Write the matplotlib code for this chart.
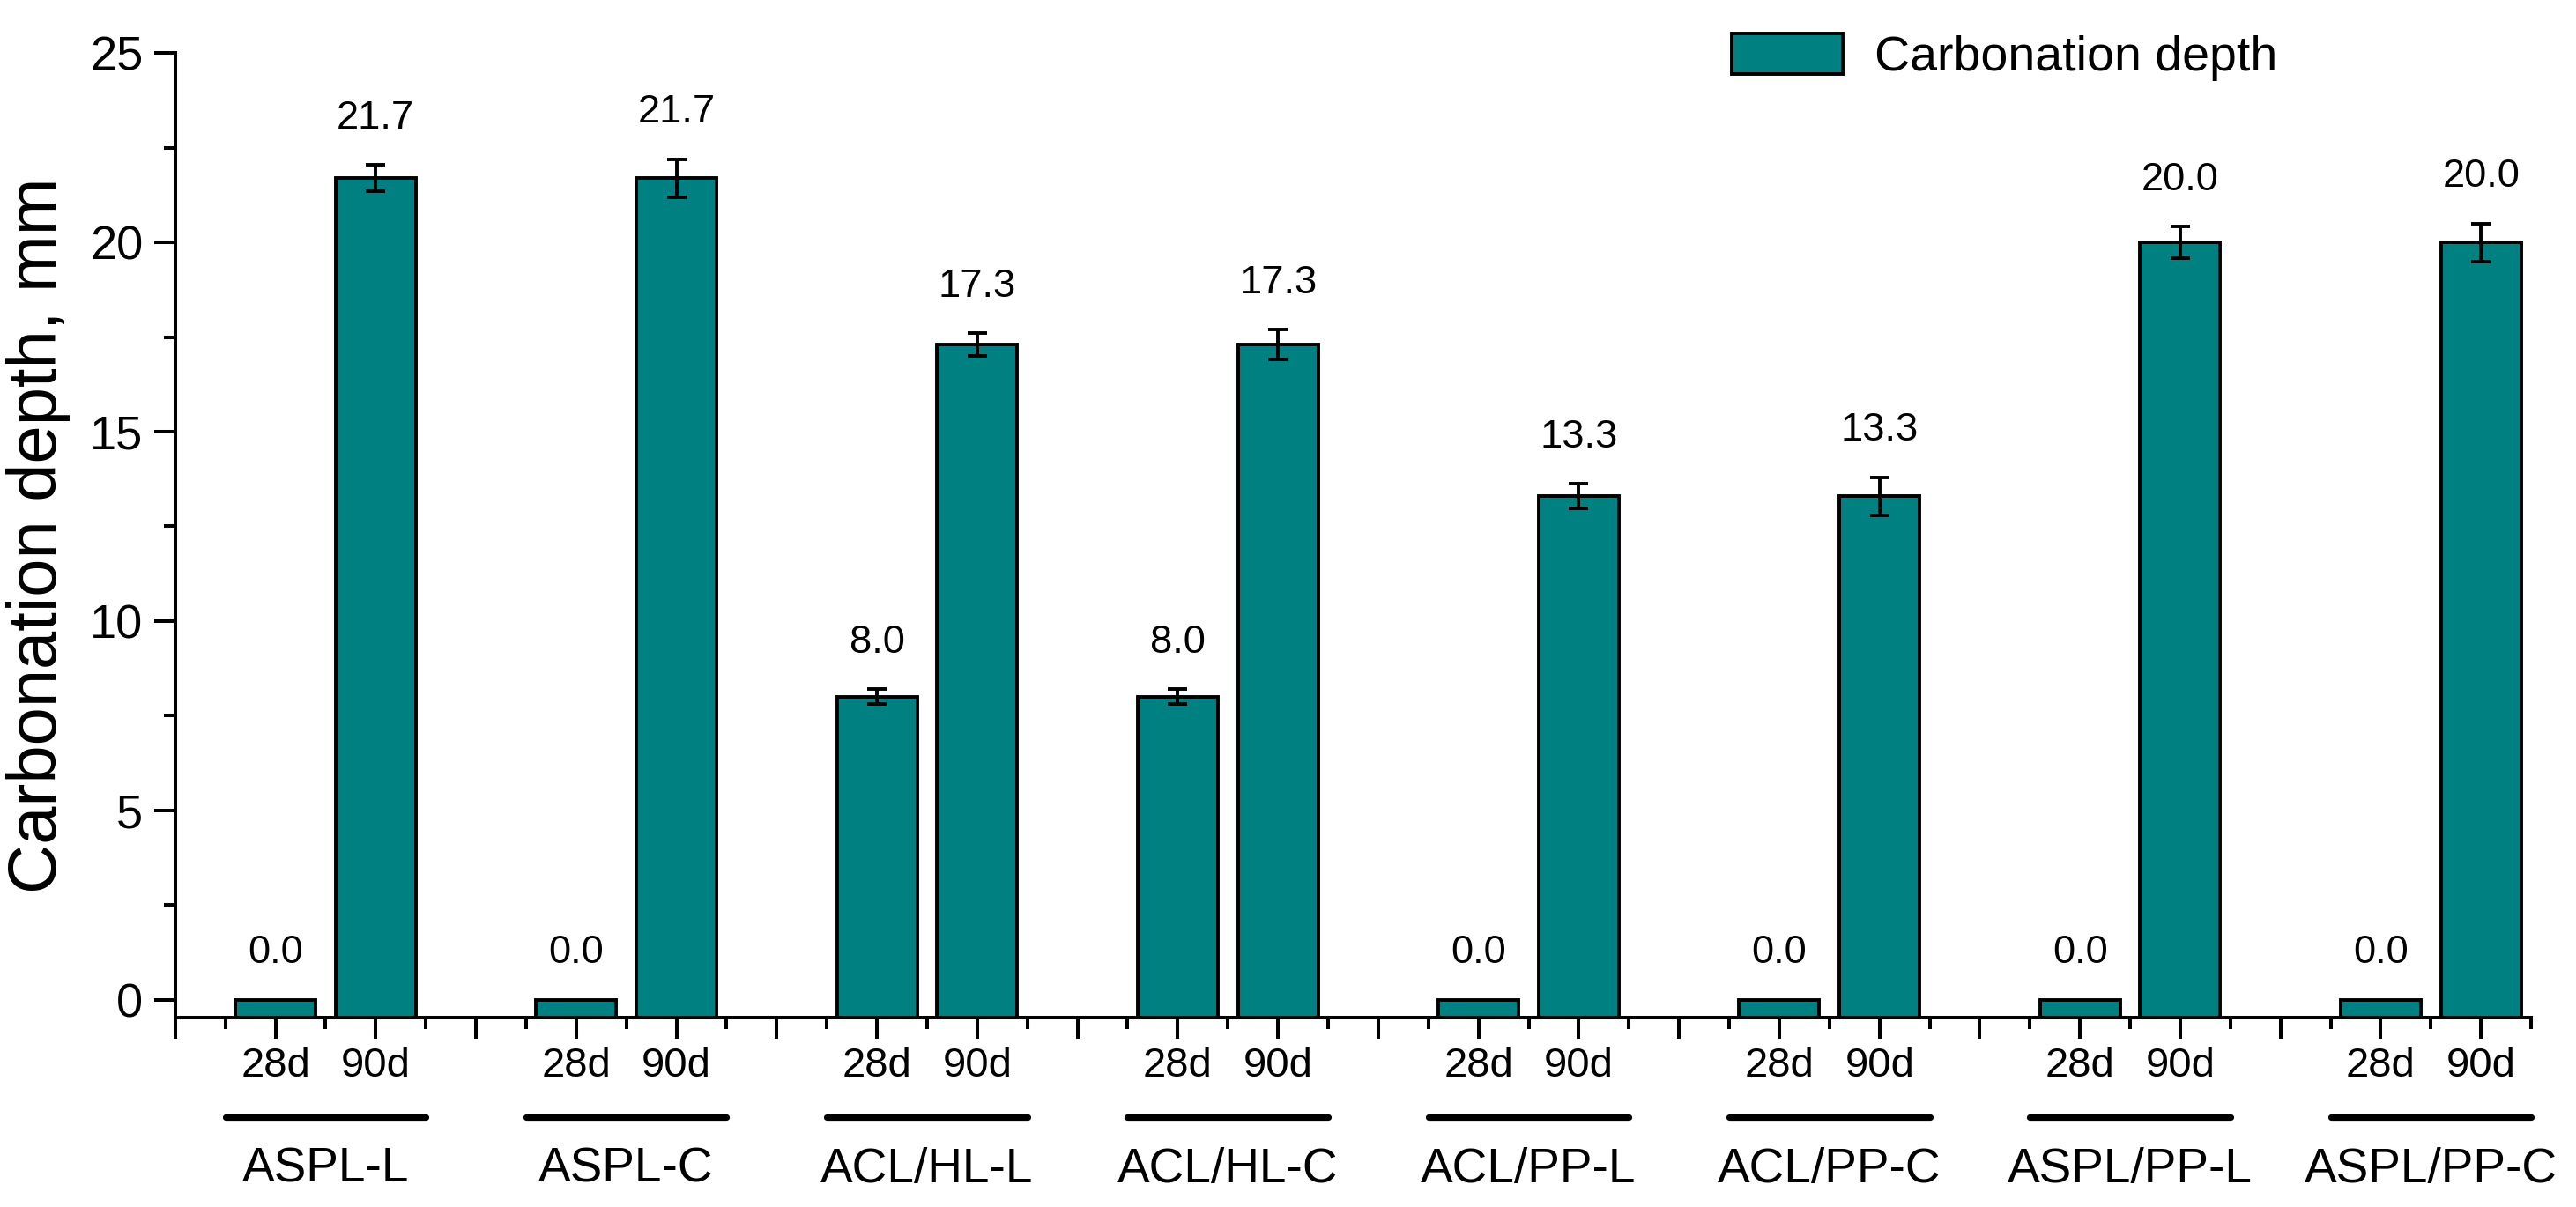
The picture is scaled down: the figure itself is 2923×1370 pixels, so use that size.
import numpy as np
import matplotlib.pyplot as plt
from matplotlib.ticker import MultipleLocator, FixedLocator

plt.rcParams['font.family'] = ['Liberation Sans', 'DejaVu Sans']

# datos
grupos = ['ASPL-L', 'ASPL-C', 'ACL/HL-L', 'ACL/HL-C',
          'ACL/PP-L', 'ACL/PP-C', 'ASPL/PP-L', 'ASPL/PP-C']
edades = ['28d', '90d']
prof_28 = [0.0, 0.0, 8.0, 8.0, 0.0, 0.0, 0.0, 0.0]
prof_90 = [21.7, 21.7, 17.3, 17.3, 13.3, 13.3, 20.0, 20.0]
err_28 = [0.0, 0.0, 0.2, 0.2, 0.0, 0.0, 0.0, 0.0]
err_90 = [0.35, 0.5, 0.3, 0.4, 0.33, 0.5, 0.42, 0.5]

color = '#008080'
y0 = -0.47

fig = plt.figure(figsize=(14.615, 6.85), dpi=200)
ax = fig.add_axes([0.068, 0.157, 0.9146, 0.799])

x28 = np.arange(len(grupos)) * 3 + 1
x90 = x28 + 1
xs = np.concatenate([x28, x90])
vals = np.array(prof_28 + prof_90)
errs = np.array(err_28 + err_90)

ax.bar(xs, vals - y0, bottom=y0, width=0.8, color=color,
       edgecolor='black', linewidth=1.4, label='Carbonation depth', zorder=2)
mask = errs > 0
ax.errorbar(xs[mask], vals[mask], yerr=errs[mask], fmt='none', ecolor='black',
            elinewidth=1.4, capsize=4, capthick=1.4, zorder=3)

for x, v, e in zip(xs, vals, errs):
    ax.text(x, v + e + 1.23, '%.1f' % v, ha='center', va='center', fontsize=16.3)

ax.set_xlim(0, 23.5)
ax.set_ylim(y0, 25)

ax.spines['top'].set_visible(False)
ax.spines['right'].set_visible(False)
for s in ['left', 'bottom']:
    ax.spines[s].set_linewidth(1.45)

ax.yaxis.set_major_locator(MultipleLocator(5))
ax.yaxis.set_minor_locator(MultipleLocator(2.5))
ax.xaxis.set_major_locator(FixedLocator(np.arange(0, 24)))
ax.xaxis.set_minor_locator(FixedLocator(np.arange(0.5, 24, 1)))
etiquetas = []
for i in range(24):
    if i % 3 == 1:
        etiquetas.append(edades[0])
    elif i % 3 == 2:
        etiquetas.append(edades[1])
    else:
        etiquetas.append('')
ax.set_xticklabels(etiquetas)

ax.tick_params(axis='both', which='major', length=8.6, width=1.45)
ax.tick_params(axis='both', which='minor', length=4.7, width=1.45)
ax.tick_params(axis='x', which='major', labelsize=17, pad=3.2)
ax.tick_params(axis='y', which='major', labelsize=19.5, pad=4.5)

ax.set_ylabel('Carbonation depth, mm', fontsize=28, labelpad=8)

trans = ax.get_xaxis_transform()
for k, g in enumerate(grupos):
    ax.plot([3 * k + 0.5, 3 * k + 2.5], [-0.103, -0.103], transform=trans,
            color='black', lw=2.6, solid_capstyle='round', clip_on=False)
    ax.text(3 * k + 1.5, -0.158, g, transform=trans, ha='center', va='center',
            fontsize=19.8)

fig.legend(loc='upper left', bbox_to_anchor=(1965 / 2923, 1 - 38 / 1370),
           frameon=False, fontsize=20, borderpad=0, borderaxespad=0,
           handlelength=2.27, handleheight=0.9, handletextpad=0.64)

fig.savefig('out.png', dpi=200)
